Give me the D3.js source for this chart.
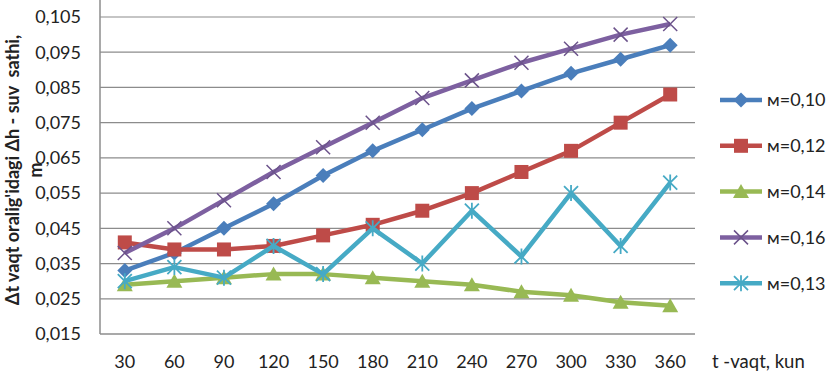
<!DOCTYPE html>
<html>
<head>
<meta charset="utf-8">
<script src="https://cdn.jsdelivr.net/npm/d3@7"></script>
<style>
  body { margin: 0; background: #fff; }
  svg { display: block; font-family: Lato, "Open Sans", sans-serif; }
</style>
</head>
<body>
<div id="chart"></div>
<script>
// 数据
const days = ['30', '60', '90', '120', '150', '180', '210', '240', '270', '300', '330', '360'];
const yTicks = [0.015, 0.025, 0.035, 0.045, 0.055, 0.065, 0.075, 0.085, 0.095, 0.105];
const m010 = [0.033, 0.038, 0.045, 0.052, 0.060, 0.067, 0.073, 0.079, 0.084, 0.089, 0.093, 0.097];
const m012 = [0.041, 0.039, 0.039, 0.040, 0.043, 0.046, 0.050, 0.055, 0.061, 0.067, 0.075, 0.083];
const m014 = [0.029, 0.030, 0.031, 0.032, 0.032, 0.031, 0.030, 0.029, 0.027, 0.026, 0.024, 0.023];
const m016 = [0.038, 0.045, 0.053, 0.061, 0.068, 0.075, 0.082, 0.087, 0.092, 0.096, 0.100, 0.103];
const m013 = [0.030, 0.034, 0.031, 0.040, 0.032, 0.045, 0.035, 0.050, 0.037, 0.055, 0.040, 0.058];

const series = [
  { name: 'м=0,10', values: m010, color: '#4a7ebb', marker: 'diamond' },
  { name: 'м=0,12', values: m012, color: '#be4b48', marker: 'square' },
  { name: 'м=0,14', values: m014, color: '#98b954', marker: 'triangle' },
  { name: 'м=0,16', values: m016, color: '#7d60a0', marker: 'x' },
  { name: 'м=0,13', values: m013, color: '#46aac5', marker: 'star' }
];

const width = 827, height = 372;
const plot = { left: 100, right: 695, top: 17, bottom: 334 };

const svg = d3.select('#chart').append('svg')
  .attr('width', width)
  .attr('height', height);

const x = d3.scaleBand().domain(days).range([plot.left, plot.right]).padding(0);
const y = d3.scaleLinear().domain([0.015, 0.105]).range([plot.bottom, plot.top]);
const cx = d => x(d) + x.bandwidth() / 2;

// 网格线
svg.append('g')
  .selectAll('line')
  .data(yTicks.slice(1))
  .join('line')
  .attr('x1', plot.left).attr('x2', plot.right)
  .attr('y1', d => y(d)).attr('y2', d => y(d))
  .attr('stroke', '#8c8c8c').attr('stroke-width', 1.2);

// 坐标轴线
svg.append('line')
  .attr('x1', plot.left).attr('x2', plot.left)
  .attr('y1', 0).attr('y2', plot.bottom)
  .attr('stroke', '#8c8c8c').attr('stroke-width', 1.5);
svg.append('line')
  .attr('x1', plot.left).attr('x2', plot.right)
  .attr('y1', plot.bottom).attr('y2', plot.bottom)
  .attr('stroke', '#8c8c8c').attr('stroke-width', 1.5);

// Y 轴刻度
const fmt = d => d3.format('.3f')(d).replace('.', ',');
svg.append('g')
  .selectAll('text')
  .data(yTicks)
  .join('text')
  .attr('x', 81)
  .attr('y', d => y(d))
  .attr('dy', '0.35em')
  .attr('text-anchor', 'end')
  .attr('font-size', 18)
  .attr('fill', '#222')
  .text(fmt);

// X 轴刻度
svg.append('g')
  .selectAll('text')
  .data(days)
  .join('text')
  .attr('x', d => cx(d))
  .attr('y', 362)
  .attr('dy', '0.35em')
  .attr('text-anchor', 'middle')
  .attr('font-size', 18)
  .attr('fill', '#222')
  .text(d => d);

svg.append('text')
  .attr('x', 712).attr('y', 362).attr('dy', '0.35em')
  .attr('font-size', 18.5).attr('fill', '#222')
  .text('t -vaqt, kun');

// Y 轴标题
svg.append('text')
  .attr('transform', 'translate(13,170) rotate(-90)')
  .attr('dy', '0.35em')
  .attr('text-anchor', 'middle')
  .style('white-space', 'pre')
  .attr('font-size', 18).attr('font-weight', 'bold').attr('fill', '#222')
  .text('Δt vaqt oralig\'idagi Δh - suv  sathi,');
svg.append('text')
  .attr('transform', 'translate(36,170) rotate(-90)')
  .attr('dy', '0.35em')
  .attr('text-anchor', 'middle')
  .attr('font-size', 18).attr('font-weight', 'bold').attr('fill', '#222')
  .text('m');

// 标记绘制
function drawMarker(g, type, color) {
  if (type === 'diamond') {
    g.append('path').attr('d', 'M0,-7.5L7.5,0L0,7.5L-7.5,0Z').attr('fill', color);
  } else if (type === 'square') {
    g.append('rect').attr('x', -7).attr('y', -7).attr('width', 14).attr('height', 14).attr('fill', color);
  } else if (type === 'triangle') {
    g.append('path').attr('d', 'M0,-7.5L8,6.5L-8,6.5Z').attr('fill', color);
  } else if (type === 'x') {
    g.append('path').attr('d', 'M-7,-7L7,7M-7,7L7,-7')
      .attr('stroke', d3.color(color).darker(0.4)).attr('stroke-width', 1.5).attr('fill', 'none');
  } else if (type === 'star') {
    g.append('path').attr('d', 'M-7,-7L7,7M-7,7L7,-7M0,-8L0,8')
      .attr('stroke', color).attr('stroke-width', 1.8).attr('fill', 'none');
  }
}

const line = d3.line()
  .x((d, i) => cx(days[i]))
  .y(d => y(d));

series.forEach(s => {
  const g = svg.append('g');
  g.append('path')
    .attr('d', line(s.values))
    .attr('fill', 'none')
    .attr('stroke', s.color)
    .attr('stroke-width', 4.5)
    .attr('stroke-linejoin', 'round');
  s.values.forEach((v, i) => {
    const mg = g.append('g').attr('transform', `translate(${cx(days[i])},${y(v)})`);
    drawMarker(mg, s.marker, s.color);
  });
});

// 图例
const legend = svg.append('g');
series.forEach((s, i) => {
  const ly = 100 + i * 45.8;
  const g = legend.append('g').attr('transform', `translate(0,${ly})`);
  g.append('line')
    .attr('x1', 720).attr('x2', 762)
    .attr('stroke', s.color).attr('stroke-width', 4.5);
  drawMarker(g.append('g').attr('transform', 'translate(741,0)'), s.marker, s.color);
  g.append('text')
    .attr('x', 767).attr('dy', '0.35em')
    .attr('font-size', 18).attr('fill', '#222')
    .text(s.name);
});
</script>
</body>
</html>
